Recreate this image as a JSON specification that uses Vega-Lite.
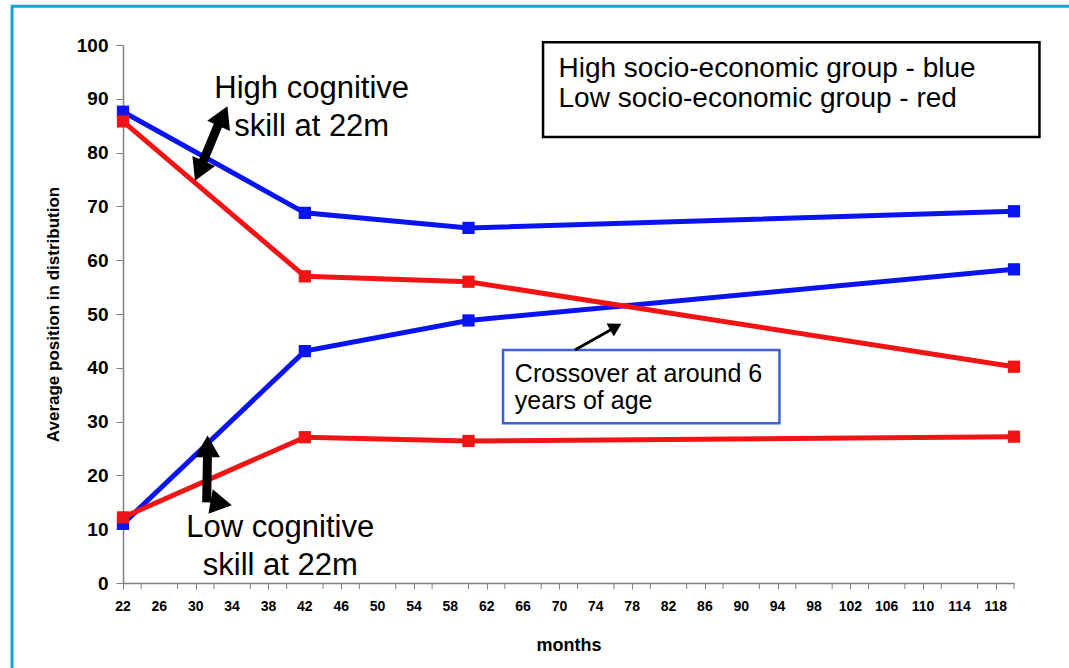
{
  "$schema": "https://vega.github.io/schema/vega-lite/v6.json",
  "autosize": "none",
  "width": 891,
  "height": 538,
  "padding": {"left": 123, "top": 45, "right": 55, "bottom": 85},
  "background": "white",
  "config": {"view": {"stroke": null}, "font": "Liberation Sans"},
  "datasets": {
    "series": [
      {"ses": "High", "cog": "High", "month": 22, "value": 87.6},
      {"ses": "High", "cog": "High", "month": 42, "value": 68.8},
      {"ses": "High", "cog": "High", "month": 60, "value": 66.0},
      {"ses": "High", "cog": "High", "month": 120, "value": 69.1},
      {"ses": "High", "cog": "Low", "month": 22, "value": 11.0},
      {"ses": "High", "cog": "Low", "month": 42, "value": 43.1},
      {"ses": "High", "cog": "Low", "month": 60, "value": 48.8},
      {"ses": "High", "cog": "Low", "month": 120, "value": 58.3},
      {"ses": "Low", "cog": "High", "month": 22, "value": 85.8},
      {"ses": "Low", "cog": "High", "month": 42, "value": 57.0},
      {"ses": "Low", "cog": "High", "month": 60, "value": 56.0},
      {"ses": "Low", "cog": "High", "month": 120, "value": 40.2},
      {"ses": "Low", "cog": "Low", "month": 22, "value": 12.2},
      {"ses": "Low", "cog": "Low", "month": 42, "value": 27.1},
      {"ses": "Low", "cog": "Low", "month": 60, "value": 26.4},
      {"ses": "Low", "cog": "Low", "month": 120, "value": 27.2}
    ],
    "minorticks": [
      {"m": 24}, {"m": 28}, {"m": 32}, {"m": 36}, {"m": 40}, {"m": 44}, {"m": 48}, {"m": 52},
      {"m": 56}, {"m": 60}, {"m": 64}, {"m": 68}, {"m": 72}, {"m": 76}, {"m": 80}, {"m": 84},
      {"m": 88}, {"m": 92}, {"m": 96}, {"m": 100}, {"m": 104}, {"m": 108}, {"m": 112}, {"m": 116}, {"m": 120}
    ],
    "xlabels": [
      {"m": 22}, {"m": 26}, {"m": 30}, {"m": 34}, {"m": 38}, {"m": 42}, {"m": 46}, {"m": 50},
      {"m": 54}, {"m": 58}, {"m": 62}, {"m": 66}, {"m": 70}, {"m": 74}, {"m": 78}, {"m": 82},
      {"m": 86}, {"m": 90}, {"m": 94}, {"m": 98}, {"m": 102}, {"m": 106}, {"m": 110}, {"m": 114}, {"m": 118}
    ],
    "frame": [{"x": 9.8, "x2": 135, "y": 107.2, "y2": -25}],
    "legendbox": [{"x": 68.2, "x2": 122.8, "y": 100.5, "y2": 82.9}],
    "crossbox": [{"x": 63.8, "x2": 94.2, "y": 43.3, "y2": 29.7}],
    "bigtext": [
      {"x": 42.75, "y": 90.1, "t": "High cognitive\nskill at 22m"},
      {"x": 39.3, "y": 8.6, "t": "Low cognitive\nskill at 22m"}
    ],
    "legendtext": [{"x": 69.9, "y": 94.0, "t": "High socio-economic group - blue\nLow socio-economic group - red"}],
    "crosstext": [{"x": 65.1, "y": 37.4, "t": "Crossover at around 6\nyears of age"}],
    "shafts": [
      {"x": 71.7, "y": 43.3, "x2": 76.0, "y2": 47.4, "w": 3},
      {"x": 30.6, "y": 77.5, "x2": 32.8, "y2": 86.5, "w": 9},
      {"x": 31.3, "y": 24.5, "x2": 31.2, "y2": 15.0, "w": 9}
    ],
    "heads": [
      {"x": 76.2, "y": 47.6, "a": 61, "s": 220},
      {"x": 33.0, "y": 86.8, "a": 24, "s": 620},
      {"x": 30.4, "y": 76.6, "a": 204, "s": 620},
      {"x": 31.3, "y": 25.4, "a": 0, "s": 620},
      {"x": 32.8, "y": 14.8, "a": 100, "s": 620}
    ]
  },
  "layer": [
    {
      "data": {"name": "series"},
      "mark": {"type": "line", "strokeWidth": 5, "point": {"shape": "square", "filled": true, "size": 150, "opacity": 1}},
      "encoding": {
        "x": {
          "field": "month", "type": "quantitative",
          "scale": {"domain": [22, 120], "nice": false, "zero": false},
          "axis": {
            "title": "months",
            "values": [22,26,30,34,38,42,46,50,54,58,62,66,70,74,78,82,86,90,94,98,102,106,110,114,118],
            "labels": false,
            "grid": false,
            "domainColor": "#808080",
            "domainWidth": 1.5,
            "tickColor": "#808080",
            "tickSize": 6,
            "titleFont": "Liberation Sans",
            "titleFontWeight": "bold",
            "titleFontSize": 18,
            "titleColor": "black",
            "titlePadding": 47
          }
        },
        "y": {
          "field": "value", "type": "quantitative",
          "scale": {"domain": [0, 100], "nice": false},
          "axis": {
            "title": "Average position in distribution",
            "values": [0,10,20,30,40,50,60,70,80,90,100],
            "grid": false,
            "domainColor": "#808080",
            "domainWidth": 1.5,
            "tickColor": "#808080",
            "tickSize": 7,
            "labelFont": "Liberation Sans",
            "labelFontWeight": "bold",
            "labelFontSize": 19,
            "labelColor": "black",
            "labelPadding": 8,
            "titleFont": "Liberation Sans",
            "titleFontWeight": "bold",
            "titleFontSize": 17,
            "titleColor": "black",
            "titlePadding": 14
          }
        },
        "color": {
          "field": "ses", "type": "nominal",
          "scale": {"domain": ["High", "Low"], "range": ["#0A14F0", "#F21414"]},
          "legend": null
        },
        "detail": {"field": "cog"}
      }
    },
    {
      "data": {"name": "xlabels"},
      "mark": {"type": "text", "align": "center", "baseline": "middle", "fontSize": 14, "fontWeight": "bold", "font": "Liberation Sans", "color": "black"},
      "encoding": {
        "x": {"field": "m", "type": "quantitative"},
        "y": {"datum": -4.5, "type": "quantitative"},
        "text": {"field": "m", "type": "quantitative"}
      }
    },
    {
      "data": {"name": "frame"},
      "mark": {"type": "rect", "fill": null, "stroke": "#12A4D8", "strokeWidth": 3},
      "encoding": {
        "x": {"field": "x", "type": "quantitative"},
        "x2": {"field": "x2"},
        "y": {"field": "y", "type": "quantitative"},
        "y2": {"field": "y2"}
      }
    },
    {
      "data": {"name": "minorticks"},
      "mark": {"type": "rule", "color": "#808080", "strokeWidth": 1},
      "encoding": {
        "x": {"field": "m", "type": "quantitative"},
        "y": {"datum": 0, "type": "quantitative"},
        "y2": {"datum": -1.12}
      }
    },
    {
      "data": {"name": "legendbox"},
      "mark": {"type": "rect", "fill": "white", "stroke": "black", "strokeWidth": 2.5},
      "encoding": {
        "x": {"field": "x", "type": "quantitative"},
        "x2": {"field": "x2"},
        "y": {"field": "y", "type": "quantitative"},
        "y2": {"field": "y2"}
      }
    },
    {
      "data": {"name": "crossbox"},
      "mark": {"type": "rect", "fill": "white", "stroke": "#3B62D6", "strokeWidth": 2.5},
      "encoding": {
        "x": {"field": "x", "type": "quantitative"},
        "x2": {"field": "x2"},
        "y": {"field": "y", "type": "quantitative"},
        "y2": {"field": "y2"}
      }
    },
    {
      "data": {"name": "bigtext"},
      "mark": {"type": "text", "align": "center", "baseline": "alphabetic", "fontSize": 31, "lineHeight": 38, "lineBreak": "\n", "color": "black", "font": "Liberation Sans"},
      "encoding": {
        "x": {"field": "x", "type": "quantitative"},
        "y": {"field": "y", "type": "quantitative"},
        "text": {"field": "t"}
      }
    },
    {
      "data": {"name": "legendtext"},
      "mark": {"type": "text", "align": "left", "baseline": "alphabetic", "fontSize": 28, "lineHeight": 30, "lineBreak": "\n", "color": "black", "font": "Liberation Sans"},
      "encoding": {
        "x": {"field": "x", "type": "quantitative"},
        "y": {"field": "y", "type": "quantitative"},
        "text": {"field": "t"}
      }
    },
    {
      "data": {"name": "crosstext"},
      "mark": {"type": "text", "align": "left", "baseline": "alphabetic", "fontSize": 25, "lineHeight": 27, "lineBreak": "\n", "color": "black", "font": "Liberation Sans"},
      "encoding": {
        "x": {"field": "x", "type": "quantitative"},
        "y": {"field": "y", "type": "quantitative"},
        "text": {"field": "t"}
      }
    },
    {
      "data": {"name": "shafts"},
      "mark": {"type": "rule", "color": "black"},
      "encoding": {
        "x": {"field": "x", "type": "quantitative"},
        "x2": {"field": "x2"},
        "y": {"field": "y", "type": "quantitative"},
        "y2": {"field": "y2"},
        "strokeWidth": {"field": "w", "type": "quantitative", "scale": null}
      }
    },
    {
      "data": {"name": "heads"},
      "mark": {"type": "point", "shape": "triangle-up", "filled": true, "color": "black", "opacity": 1},
      "encoding": {
        "x": {"field": "x", "type": "quantitative"},
        "y": {"field": "y", "type": "quantitative"},
        "angle": {"field": "a", "type": "quantitative", "scale": null},
        "size": {"field": "s", "type": "quantitative", "scale": null}
      }
    }
  ]
}
